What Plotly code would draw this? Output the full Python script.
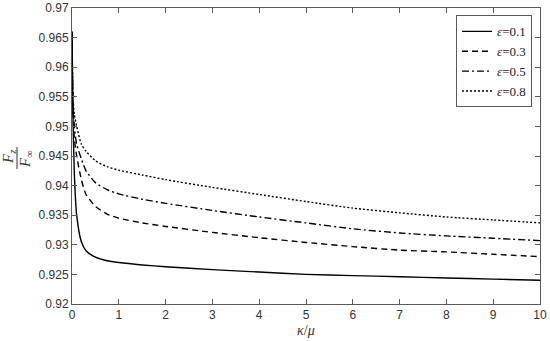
import plotly.graph_objects as go

kappa_mu = [0, 0.02, 0.05, 0.1, 0.2, 0.3, 0.5, 0.75, 1, 1.5, 2, 3, 4, 5, 6, 7, 8, 9, 10]
eps_01 = [0.966, 0.952, 0.942, 0.935, 0.9305, 0.9290, 0.9279, 0.9273, 0.9270, 0.9266, 0.9263,
          0.9258, 0.9254, 0.9250, 0.9248, 0.9246, 0.9244, 0.9242, 0.9240]
eps_03 = [0.966, 0.953, 0.948, 0.945, 0.941, 0.9385, 0.9365, 0.9352, 0.9345, 0.9337, 0.9331,
          0.9321, 0.9312, 0.9304, 0.9297, 0.9291, 0.9288, 0.9284, 0.9280]
eps_05 = [0.966, 0.954, 0.950, 0.947, 0.9445, 0.9425, 0.9405, 0.9393, 0.9386, 0.9377, 0.9370,
          0.9358, 0.9347, 0.9337, 0.9327, 0.9320, 0.9315, 0.9311, 0.9307]
eps_08 = [0.966, 0.955, 0.952, 0.950, 0.947, 0.9458, 0.9442, 0.9432, 0.9426, 0.9418, 0.9410,
          0.9397, 0.9385, 0.9373, 0.9362, 0.9354, 0.9347, 0.9342, 0.9337]
labels = ["0.1", "0.3", "0.5", "0.8"]
series = [eps_01, eps_03, eps_05, eps_08]
dashes = ["solid", "6px,4px", "7px,3px,2px,3px", "2px,2px"]

x_ticks = list(range(0, 11))
y_ticks = [0.92, 0.925, 0.93, 0.935, 0.94, 0.945, 0.95, 0.955, 0.96, 0.965, 0.97]
y_ticktext = ["0.92", "0.925", "0.93", "0.935", "0.94", "0.945", "0.95", "0.955", "0.96", "0.965", "0.97"]

fig = go.Figure()
for lab, ys, d in zip(labels, series, dashes):
    fig.add_trace(go.Scatter(x=kappa_mu, y=ys, mode="lines", name="<i>ε</i>=" + lab,
                             line=dict(color="black", width=1.4, dash=d, shape="spline", smoothing=0.6)))

W, H = 550, 341
L, R, T, B = 72, 10, 8, 37
axis_common = dict(showline=True, linecolor="#5a5a5a", linewidth=1, mirror="ticks", ticks="inside",
                   ticklen=5, tickcolor="#5a5a5a", showgrid=False, zeroline=False, automargin=False,
                   tickfont=dict(family="Liberation Sans, Arial", size=12, color="#333333"))
fig.update_layout(
    width=W, height=H, margin=dict(l=L, r=R, t=T, b=B, autoexpand=False),
    plot_bgcolor="white", paper_bgcolor="white",
    xaxis=dict(range=[0, 10], tickvals=x_ticks, **axis_common),
    yaxis=dict(range=[0.92, 0.97], tickvals=y_ticks, ticktext=y_ticktext, **axis_common),
    legend=dict(x=0.983, y=0.975, xanchor="right", yanchor="top", bordercolor="#5a5a5a", borderwidth=1,
                bgcolor="white", font=dict(family="Liberation Serif, Times New Roman", size=13, color="#222"),
                tracegroupgap=0, itemwidth=30),
    showlegend=True,
)
px = lambda p: (p - L) / (W - L - R)
py = lambda p: (H - B - p) / (H - T - B)
fig.add_annotation(text="<i>κ</i>/<i>μ</i>", xref="paper", yref="paper", x=0.5, y=py(330),
                   yanchor="middle", showarrow=False,
                   font=dict(family="Liberation Serif, Times New Roman", size=14, color="#333"))
# y-axis fraction label F_z / F_inf, rotated
fig.add_annotation(text="<i>F</i><sub><i>z</i></sub>", xref="paper", yref="paper", x=px(9), y=py(157),
                   textangle=-90, showarrow=False, xanchor="center", yanchor="middle",
                   font=dict(family="Liberation Serif, Times New Roman", size=15, color="#333"))
fig.add_annotation(text="<i>F</i><sub>∞</sub>", xref="paper", yref="paper", x=px(26), y=py(159),
                   textangle=-90, showarrow=False, xanchor="center", yanchor="middle",
                   font=dict(family="Liberation Serif, Times New Roman", size=15, color="#333"))
fig.add_shape(type="line", xref="paper", yref="paper", x0=px(17), x1=px(17), y0=py(147), y1=py(169),
              line=dict(color="#333", width=1))
fig.write_html("out.html", post_script="document.body.style.margin='0';",
               config={"displayModeBar": False})
